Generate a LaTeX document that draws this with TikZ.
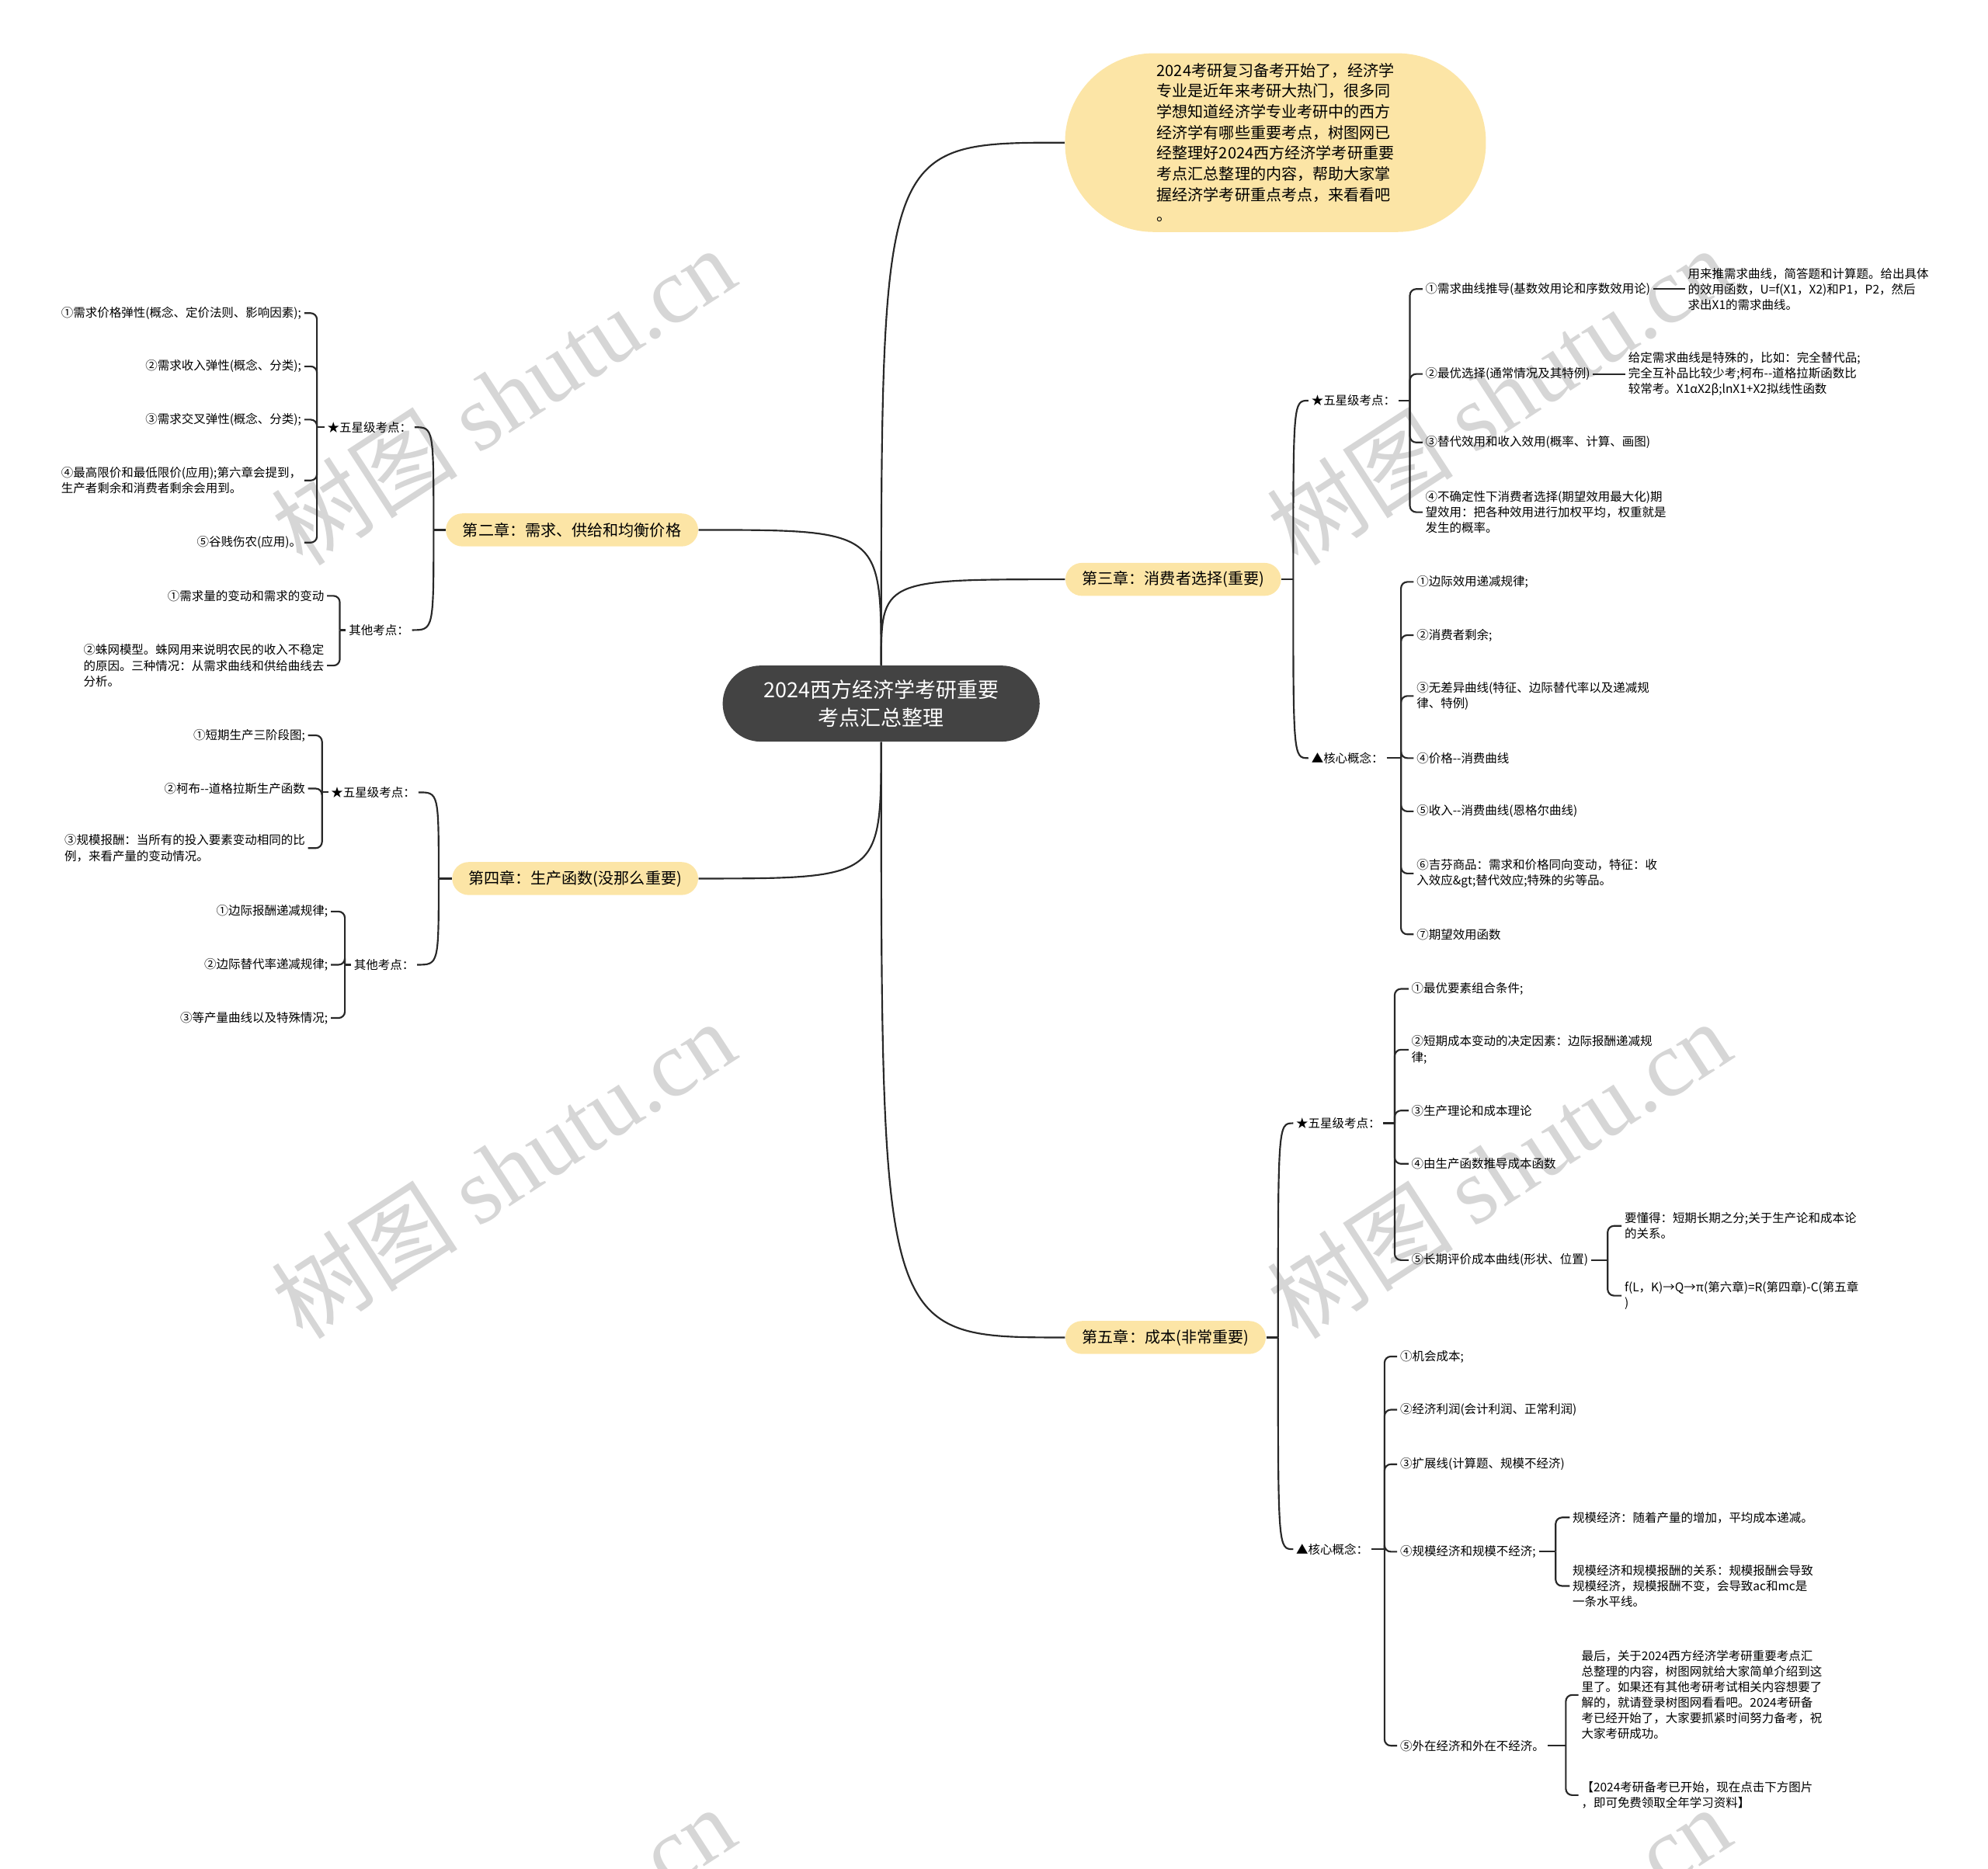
\documentclass[tikz,border=0pt]{standalone}
\usepackage{fontspec}
\setmainfont{Noto Sans CJK SC}
\newfontfamily\wmlatin{Liberation Serif}
\definecolor{smchap}{RGB}{252,229,166}
\definecolor{smroot}{RGB}{67,67,67}
\definecolor{smline}{RGB}{40,40,40}
\definecolor{smwm}{RGB}{214,214,214}

\begin{document}
\begin{tikzpicture}[
    x=0.2mm, y=-0.2mm,
    arc/.style={draw=smline, line width=0.75pt},
    brk/.style={draw=smline, line width=0.75pt, rounded corners=1mm},
    root/.style={fill=smroot, text=white, rounded corners=6mm, minimum width=50mm, minimum height=12mm, align=center, font=\fontsize{9.4}{12.5}\selectfont},
    intro/.style={fill=smchap, rounded corners=14mm, minimum width=66.4mm, minimum height=28.2mm, align=left, font=\fontsize{7}{9.3}\selectfont},
    chap/.style={fill=smchap, rounded corners=2.6mm, minimum height=5.2mm, inner xsep=1mm, font=\fontsize{7}{9}\selectfont},
    topic/.style={inner xsep=0.4mm, inner ysep=0.6mm, font=\fontsize{5.4}{7}\selectfont},
    leaf/.style={topic, align=left},
    wm/.style={text=smwm, rotate=33, font=\fontsize{42}{42}\selectfont},
  ]

  \useasboundingbox (0,0) rectangle (1568,1474);

  % watermarks
  \begin{scope}
    \clip (0,0) rectangle (1568,1474);
    \foreach \wx in {397,1182} {
      \foreach \wy in {312,922,1542} {
        \node[wm] at (\wx,\wy) {树图 {\wmlatin shutu.cn}};
      }
    }
  \end{scope}

  \node[root] (ctr) at (695,555) {2024西方经济学考研重要\\考点汇总整理};
  \node[intro] (intro) at (1006,112.5) {2024考研复习备考开始了，经济学\\专业是近年来考研大热门，很多同\\学想知道经济学专业考研中的西方\\经济学有哪些重要考点，树图网已\\经整理好2024西方经济学考研重要\\考点汇总整理的内容，帮助大家掌\\握经济学考研重点考点，来看看吧\\。};

  \node[chap, anchor=east, minimum width=39.8mm] (ch2) at (551,418) {第二章：需求、供给和均衡价格};
  \node[chap, anchor=east, minimum width=38.8mm] (ch4) at (551,693) {第四章：生产函数(没那么重要)};
  \node[chap, anchor=west, minimum width=34mm] (ch3) at (840,457) {第三章：消费者选择(重要)};
  \node[chap, anchor=west, minimum width=31.6mm] (ch5) at (840,1055) {第五章：成本(非常重要)};

  \draw[arc] (ctr.north) .. controls (ctr.north |- intro.west) .. (intro.west);
  \draw[arc] (ctr.north) .. controls (ctr.north |- ch2.east) .. (ch2.east);
  \draw[arc] (ctr.north) .. controls (ctr.north |- ch3.west) .. (ch3.west);
  \draw[arc] (ctr.south) .. controls (ctr.south |- ch4.east) .. (ch4.east);
  \draw[arc] (ctr.south) .. controls (ctr.south |- ch5.west) .. (ch5.west);

  % chapter two
  \node[topic, anchor=east] (ch2a) at (327,337) {★五星级考点：};
  \node[topic, anchor=east] (ch2b) at (325,497) {其他考点：};
  \coordinate (ch2J) at (342,418);
  \draw[arc] (ch2.west) -- (ch2J);
  \draw[arc] (ch2J) .. controls (ch2J |- ch2a.east) .. (ch2a.east);
  \draw[arc] (ch2J) .. controls (ch2J |- ch2b.east) .. (ch2b.east);

  \coordinate (ch2aJ) at (250,337);
  \draw[brk] (ch2a.west) -- (ch2aJ);
  \foreach \y/\txt [count=\k] in {
      247/{①需求价格弹性(概念、定价法则、影响因素);},
      289/{②需求收入弹性(概念、分类);},
      331/{③需求交叉弹性(概念、分类);},
      379/{④最高限价和最低限价(应用);第六章会提到，\\生产者剩余和消费者剩余会用到。},
      428/{⑤谷贱伤农(应用)。}} {
    \node[leaf, anchor=east] (ch2a\k) at (240,\y) {\txt};
    \draw[brk] (ch2aJ) |- (ch2a\k.east);
  }

  \coordinate (ch2bJ) at (268,497);
  \draw[brk] (ch2b.west) -- (ch2bJ);
  \foreach \y/\txt [count=\k] in {
      470/{①需求量的变动和需求的变动},
      525/{②蛛网模型。蛛网用来说明农民的收入不稳定\\的原因。三种情况：从需求曲线和供给曲线去\\分析。}} {
    \node[leaf, anchor=east] (ch2b\k) at (258,\y) {\txt};
    \draw[brk] (ch2bJ) |- (ch2b\k.east);
  }

  % chapter four
  \node[topic, anchor=east] (ch4a) at (330,625) {★五星级考点：};
  \node[topic, anchor=east] (ch4b) at (329,761) {其他考点：};
  \coordinate (ch4J) at (346,693);
  \draw[arc] (ch4.west) -- (ch4J);
  \draw[arc] (ch4J) .. controls (ch4J |- ch4a.east) .. (ch4a.east);
  \draw[arc] (ch4J) .. controls (ch4J |- ch4b.east) .. (ch4b.east);

  \coordinate (ch4aJ) at (254,625);
  \draw[brk] (ch4a.west) -- (ch4aJ);
  \foreach \y/\txt [count=\k] in {
      580/{①短期生产三阶段图;},
      622/{②柯布-{}-道格拉斯生产函数},
      669/{③规模报酬：当所有的投入要素变动相同的比\\例，来看产量的变动情况。}} {
    \node[leaf, anchor=east] (ch4a\k) at (243,\y) {\txt};
    \draw[brk] (ch4aJ) |- (ch4a\k.east);
  }

  \coordinate (ch4bJ) at (272,761);
  \draw[brk] (ch4b.west) -- (ch4bJ);
  \foreach \y/\txt [count=\k] in {
      719/{①边际报酬递减规律;},
      761/{②边际替代率递减规律;},
      803/{③等产量曲线以及特殊情况;}} {
    \node[leaf, anchor=east] (ch4b\k) at (261,\y) {\txt};
    \draw[brk] (ch4bJ) |- (ch4b\k.east);
  }

  % chapter three
  \node[topic, anchor=west] (ch3a) at (1032,316) {★五星级考点：};
  \node[topic, anchor=west] (ch3b) at (1032,598) {▲核心概念：};
  \coordinate (ch3J) at (1020,457);
  \draw[arc] (ch3.east) -- (ch3J);
  \draw[arc] (ch3J) .. controls (ch3J |- ch3a.west) .. (ch3a.west);
  \draw[arc] (ch3J) .. controls (ch3J |- ch3b.west) .. (ch3b.west);

  \coordinate (ch3aJ) at (1112,316);
  \draw[brk] (ch3a.east) -- (ch3aJ);
  \foreach \y/\txt [count=\k] in {
      228/{①需求曲线推导(基数效用论和序数效用论)},
      295/{②最优选择(通常情况及其特例)},
      349/{③替代效用和收入效用(概率、计算、画图)},
      404/{④不确定性下消费者选择(期望效用最大化)期\\望效用：把各种效用进行加权平均，权重就是\\发生的概率。}} {
    \node[leaf, anchor=west] (ch3a\k) at (1122,\y) {\txt};
    \draw[brk] (ch3aJ) |- (ch3a\k.west);
  }
  \node[leaf, anchor=west] (ch3a1n) at (1329,228) {用来推需求曲线，简答题和计算题。给出具体\\的效用函数，U=f(X1，X2)和P1，P2，然后\\求出X1的需求曲线。};
  \node[leaf, anchor=west] (ch3a2n) at (1282,295) {给定需求曲线是特殊的，比如：完全替代品;\\完全互补品比较少考;柯布-{}-道格拉斯函数比\\较常考。X1αX2β;lnX1+X2拟线性函数};
  \draw[brk] (ch3a1.east) -- (ch3a1n.west);
  \draw[brk] (ch3a2.east) -- (ch3a2n.west);

  \coordinate (ch3bJ) at (1105,598);
  \draw[brk] (ch3b.east) -- (ch3bJ);
  \foreach \y/\txt [count=\k] in {
      459/{①边际效用递减规律;},
      501/{②消费者剩余;},
      549/{③无差异曲线(特征、边际替代率以及递减规\\律、特例)},
      598/{④价格-{}-消费曲线},
      640/{⑤收入-{}-消费曲线(恩格尔曲线)},
      689/{⑥吉芬商品：需求和价格同向变动，特征：收\\入效应\&gt;替代效应;特殊的劣等品。},
      737/{⑦期望效用函数}} {
    \node[leaf, anchor=west] (ch3b\k) at (1115,\y) {\txt};
    \draw[brk] (ch3bJ) |- (ch3b\k.west);
  }

  % chapter five
  \node[topic, anchor=west] (ch5a) at (1020,886) {★五星级考点：};
  \node[topic, anchor=west] (ch5b) at (1020,1222) {▲核心概念：};
  \coordinate (ch5J) at (1008,1055);
  \draw[arc] (ch5.east) -- (ch5J);
  \draw[arc] (ch5J) .. controls (ch5J |- ch5a.west) .. (ch5a.west);
  \draw[arc] (ch5J) .. controls (ch5J |- ch5b.west) .. (ch5b.west);

  \coordinate (ch5aJ) at (1100,886);
  \draw[brk] (ch5a.east) -- (ch5aJ);
  \foreach \y/\txt [count=\k] in {
      780/{①最优要素组合条件;},
      828/{②短期成本变动的决定因素：边际报酬递减规\\律;},
      876/{③生产理论和成本理论},
      918/{④由生产函数推导成本函数},
      994/{⑤长期评价成本曲线(形状、位置)}} {
    \node[leaf, anchor=west] (ch5a\k) at (1111,\y) {\txt};
    \draw[brk] (ch5aJ) |- (ch5a\k.west);
  }
  \coordinate (ch5a5J) at (1268,994);
  \draw[brk] (ch5a5.east) -- (ch5a5J);
  \node[leaf, anchor=west] (ch5a5x) at (1279,967) {要懂得：短期长期之分;关于生产论和成本论\\的关系。};
  \node[leaf, anchor=west] (ch5a5y) at (1279,1022) {f(L，K)→Q→π(第六章)=R(第四章)-C(第五章\\)};
  \draw[brk] (ch5a5J) |- (ch5a5x.west);
  \draw[brk] (ch5a5J) |- (ch5a5y.west);

  \coordinate (ch5bJ) at (1092,1222);
  \draw[brk] (ch5b.east) -- (ch5bJ);
  \foreach \y/\txt [count=\k] in {
      1070/{①机会成本;},
      1112/{②经济利润(会计利润、正常利润)},
      1155/{③扩展线(计算题、规模不经济)},
      1224/{④规模经济和规模不经济;},
      1377/{⑤外在经济和外在不经济。}} {
    \node[leaf, anchor=west] (ch5b\k) at (1102,\y) {\txt};
    \draw[brk] (ch5bJ) |- (ch5b\k.west);
  }
  \coordinate (ch5b4J) at (1227,1224);
  \draw[brk] (ch5b4.east) -- (ch5b4J);
  \node[leaf, anchor=west] (ch5b4x) at (1238,1197) {规模经济：随着产量的增加，平均成本递减。};
  \node[leaf, anchor=west] (ch5b4y) at (1238,1251) {规模经济和规模报酬的关系：规模报酬会导致\\规模经济，规模报酬不变，会导致ac和mc是\\一条水平线。};
  \draw[brk] (ch5b4J) |- (ch5b4x.west);
  \draw[brk] (ch5b4J) |- (ch5b4y.west);

  \coordinate (ch5b5J) at (1235,1377);
  \draw[brk] (ch5b5.east) -- (ch5b5J);
  \node[leaf, anchor=west] (ch5b5x) at (1245,1337) {最后，关于2024西方经济学考研重要考点汇\\总整理的内容，树图网就给大家简单介绍到这\\里了。如果还有其他考研考试相关内容想要了\\解的，就请登录树图网看看吧。2024考研备\\考已经开始了，大家要抓紧时间努力备考，祝\\大家考研成功。};
  \node[leaf, anchor=west] (ch5b5y) at (1245,1416) {【2024考研备考已开始，现在点击下方图片\\，即可免费领取全年学习资料】};
  \draw[brk] (ch5b5J) |- (ch5b5x.west);
  \draw[brk] (ch5b5J) |- (ch5b5y.west);

\end{tikzpicture}
\end{document}
